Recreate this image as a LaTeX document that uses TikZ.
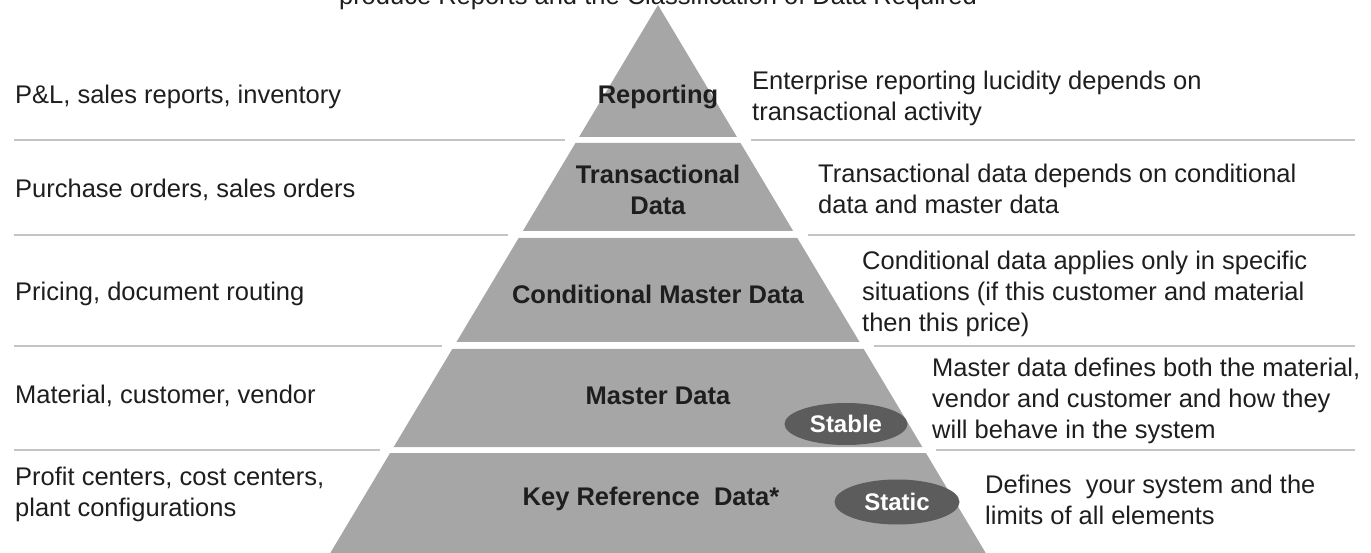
\documentclass[tikz,border=0pt]{standalone}
\usepackage{fontspec}
\setmainfont{Liberation Sans}
\usetikzlibrary{positioning,shapes.geometric}
\definecolor{tiergray}{RGB}{166,166,166}
\definecolor{ovalgray}{RGB}{92,92,92}
\definecolor{rulegray}{RGB}{196,196,196}
\definecolor{inkgray}{RGB}{30,30,30}
\newcommand{\txtsize}{\fontsize{25.5}{31}\selectfont}
\newcommand{\ovalsize}{\fontsize{24}{28}\selectfont}
\newcommand{\pyrx}[2]{658#10.598*(#2-5)}
\begin{document}
\begin{tikzpicture}[x=1pt,y=-1pt,
		tier/.style={fill=tiergray},
		rule/.style={draw=rulegray,line width=1.8pt},
		lvl/.style={font=\txtsize\bfseries,text=inkgray,align=center,inner sep=0pt},
		side/.style={font=\txtsize,text=inkgray,align=left,inner sep=0pt,anchor=west},
		oval/.style={ellipse,fill=ovalgray,text=white,font=\ovalsize\bfseries,inner sep=0pt}]
	\useasboundingbox (0,0) rectangle (1371,553);
	% title, cut off by the page edge
	\node[font=\txtsize,text=inkgray,anchor=base,inner sep=0pt] (title) at (658,4.5) {produce Reports and the Classification of Data Required};
	% pyramid
	\fill[tier] (658,5) -- ({\pyrx{+}{137}},137) -- ({\pyrx{-}{137}},137) -- cycle;
	\foreach \t/\b in {143/231,238/342,349/447,453/553}
		\fill[tier] ({\pyrx{-}{\t}},\t) -- ({\pyrx{+}{\t}},\t) -- ({\pyrx{+}{\b}},\b) -- ({\pyrx{-}{\b}},\b) -- cycle;
	% separators
	\foreach \y in {140,235,346,450} {
		\draw[rule] (14,\y) -- ({\pyrx{-}{\y}-12},\y);
		\draw[rule] ({\pyrx{+}{\y}+12},\y) -- (1355,\y);
	}
	% levels
	\node[lvl] (reporting) at (658,97) {Reporting};
	\node[lvl] (transact) at (658,190) {Transactional\\Data};
	\node[lvl] (conditional) at (658,294) {Conditional Master Data};
	\node[lvl] (master) at (658,396) {Master Data};
	\node[lvl] (keyref) at (651,499) {Key Reference\ \ Data*};
	\node[oval,minimum width=123pt,minimum height=42pt] (stable) at (846,424) {Stable};
	\node[oval,minimum width=125pt,minimum height=45pt] (static) at (897,502) {Static};
	% examples
	\node[side] (plex) at (15,97) {P\&L, sales reports, inventory};
	\node[side] (poex) at (15,190) {Purchase orders, sales orders};
	\node[side] (prex) at (15,294) {Pricing, document routing};
	\node[side] (mdex) at (15,396) {Material, customer, vendor};
	\node[side] (krex) at (15,494) {Profit centers, cost centers,\\plant configurations};
	% descriptions
	\node[side] (repdesc) at (752,98) {Enterprise reporting lucidity depends on\\transactional activity};
	\node[side] (trdesc) at (818,189) {Transactional data depends on conditional\\data and master data};
	\node[side] (cddesc) at (862,294) {Conditional data applies only in specific\\situations (if this customer and material\\then this price)};
	\node[side] (mddesc) at (932,401) {Master data defines both the material,\\vendor and customer and how they\\will behave in the system};
	\node[side] (krdesc) at (985,500) {Defines\ \ your system and the\\limits of all elements};
\end{tikzpicture}
\end{document}
